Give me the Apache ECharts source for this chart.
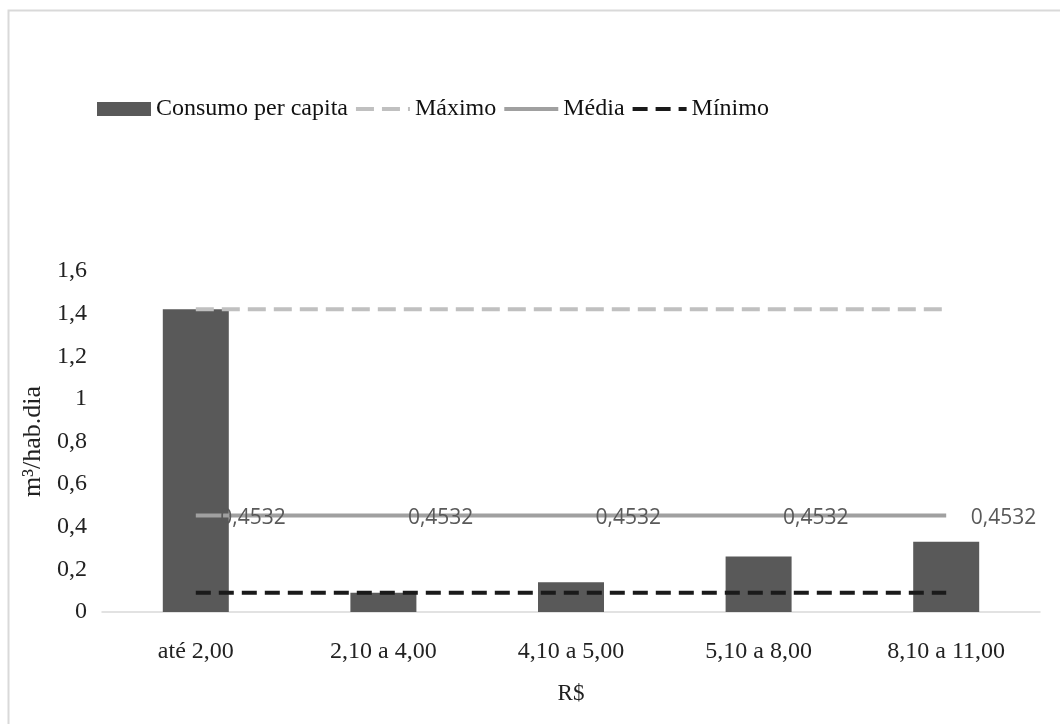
<!DOCTYPE html>
<html>
<head>
<meta charset="utf-8">
<script src="https://cdn.jsdelivr.net/npm/echarts@6/dist/echarts.min.js"></script>
<style>
  html, body { margin: 0; padding: 0; background: #fff; }
  #chart { width: 1060px; height: 724px; }
</style>
</head>
<body>
<div id="chart"></div>
<script>
// Faixas de tarifa (R$) e consumo per capita (m³/hab.dia)
const categories = ['até 2,00', '2,10 a 4,00', '4,10 a 5,00', '5,10 a 8,00', '8,10 a 11,00'];
const consumo = [1.42, 0.09, 0.14, 0.26, 0.33];
const maximo = [1.42, 1.42, 1.42, 1.42, 1.42];
const media = [0.4532, 0.4532, 0.4532, 0.4532, 0.4532];
const minimo = [0.09, 0.09, 0.09, 0.09, 0.09];
const yTicks = { min: 0, max: 1.6, interval: 0.2 };

const serif = '"Liberation Serif", "Times New Roman", serif';
const comma = v => String(Math.round(v * 10000) / 10000).replace('.', ',');
// line markers stay invisible; only the lines (and the Média labels) show
const hidden = { opacity: 0 };

const chart = echarts.init(document.getElementById('chart'), null, { renderer: 'canvas' });
chart.setOption({
  backgroundColor: '#ffffff',
  animation: false,
  graphic: [{
    type: 'rect',
    shape: { x: 8.5, y: 10.5, width: 1100, height: 800 },
    style: { fill: 'none', stroke: '#d9d9d9', lineWidth: 2 },
    silent: true
  }],
  legend: {
    left: 92,
    top: 92,
    itemWidth: 54,
    itemHeight: 14,
    itemGap: 6,
    lineStyle: { width: 4 },
    textStyle: { fontFamily: serif, fontSize: 24, color: '#111' },
    data: [
      { name: 'Consumo per capita', icon: 'rect' },
      { name: 'Máximo', itemStyle: hidden },
      { name: 'Média', itemStyle: hidden },
      { name: 'Mínimo', itemStyle: hidden }
    ]
  },
  grid: { left: 102, right: 20, top: 271, bottom: 112, containLabel: false },
  xAxis: {
    type: 'category',
    data: categories,
    name: 'R$',
    nameLocation: 'middle',
    nameGap: 70,
    nameTextStyle: { fontFamily: serif, fontSize: 23, color: '#222' },
    axisLine: { lineStyle: { color: '#d9d9d9', width: 1.5 } },
    axisTick: { show: false },
    axisLabel: { fontFamily: serif, fontSize: 24, color: '#222', margin: 28 }
  },
  yAxis: {
    type: 'value',
    min: yTicks.min,
    max: yTicks.max,
    interval: yTicks.interval,
    name: 'm³/hab.dia',
    nameLocation: 'middle',
    nameGap: 54,
    nameTextStyle: { fontFamily: serif, fontSize: 26, color: '#222' },
    axisLine: { show: false },
    axisTick: { show: false },
    splitLine: { show: false },
    axisLabel: { fontFamily: serif, fontSize: 24, color: '#222', margin: 15, formatter: comma }
  },
  series: [
    {
      name: 'Consumo per capita',
      type: 'bar',
      data: consumo,
      barWidth: 66,
      itemStyle: { color: '#595959' },
      z: 1
    },
    {
      name: 'Máximo',
      type: 'line',
      data: maximo,
      symbol: 'none',
      lineStyle: { color: '#c0c0c0', width: 4, type: [18, 8] },
      itemStyle: { color: '#c0c0c0' },
      z: 2
    },
    {
      name: 'Média',
      type: 'line',
      data: media,
      symbol: 'circle',
      symbolSize: 1,
      showSymbol: true,
      lineStyle: { color: '#a0a0a0', width: 4 },
      itemStyle: { color: '#a0a0a0', opacity: 0 },
      label: {
        show: true,
        position: 'right',
        distance: 24,
        offset: [0, 3],
        fontFamily: '"Open Sans", "Liberation Sans", sans-serif',
        fontSize: 21,
        color: '#595959',
        opacity: 1,
        formatter: p => comma(p.value)
      },
      z: 3
    },
    {
      name: 'Mínimo',
      type: 'line',
      data: minimo,
      symbol: 'none',
      lineStyle: { color: '#1a1a1a', width: 4, type: [15, 8] },
      itemStyle: { color: '#1a1a1a' },
      z: 4
    }
  ]
});
</script>
</body>
</html>
